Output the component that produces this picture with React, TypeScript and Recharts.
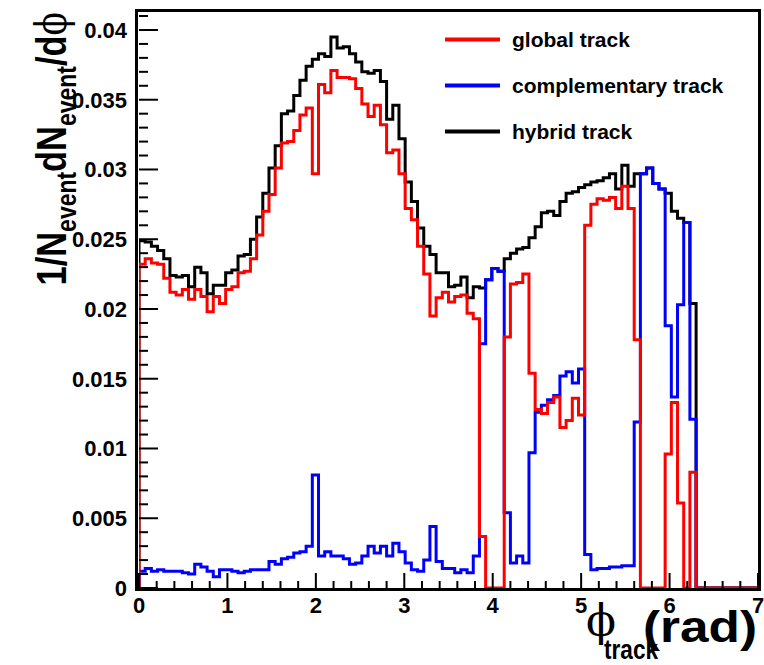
import React from 'react';
import { LineChart, Line, XAxis, YAxis } from 'recharts';

const BIN_WIDTH = 0.07;
const X_MAX = 7;
const Y_MAX = 0.04136;

const HYBRID = [
  0.0249, 0.0248, 0.0245, 0.0242, 0.0236, 0.0224, 0.0223, 0.0224, 0.0216, 0.0230,
  0.0226, 0.0211, 0.0217, 0.0217, 0.0226, 0.0228, 0.0238, 0.0239, 0.0250, 0.0266,
  0.0283, 0.0301, 0.0317, 0.0340, 0.0342, 0.0353, 0.0364, 0.0374, 0.0379, 0.0383,
  0.0381, 0.0395, 0.0387, 0.0388, 0.0383, 0.0377, 0.0370, 0.0369, 0.0371, 0.0363,
  0.0336, 0.0346, 0.0322, 0.0291, 0.0277, 0.0258, 0.0245, 0.0239, 0.0226, 0.0226,
  0.0216, 0.0217, 0.0223, 0.0208, 0.0216, 0.0215, 0.0221, 0.0229, 0.0227, 0.0236,
  0.0240, 0.0243, 0.0244, 0.0251, 0.0259, 0.0269, 0.0270, 0.0267, 0.0277, 0.0283,
  0.0284, 0.0287, 0.0289, 0.0291, 0.0292, 0.0294, 0.0297, 0.0286, 0.0303, 0.0288,
  0.0297, 0.0297, 0.0301, 0.0290, 0.0286, 0.0283, 0.0270, 0.0265, 0.0262, 0.0204,
];

const GLOBAL = [
  0.0232, 0.0236, 0.0233, 0.0232, 0.0222, 0.0212, 0.0210, 0.0214, 0.0207, 0.0214,
  0.0209, 0.0198, 0.0209, 0.0204, 0.0214, 0.0216, 0.0226, 0.0227, 0.0236, 0.0253,
  0.0270, 0.0282, 0.0301, 0.0319, 0.0320, 0.0328, 0.0339, 0.0344, 0.0297, 0.0361,
  0.0355, 0.0371, 0.0366, 0.0366, 0.0365, 0.0358, 0.0347, 0.0338, 0.0346, 0.0332,
  0.0312, 0.0314, 0.0297, 0.0272, 0.0264, 0.0245, 0.0225, 0.0195, 0.0208, 0.0212,
  0.0205, 0.0209, 0.0210, 0.0197, 0.0193, 0.0037, 0, 0, 0, 0.0180,
  0.0218, 0.0219, 0.0225, 0.0154, 0.0128, 0.0125, 0.0133, 0.0137, 0.0115, 0.0120,
  0.0136, 0.0124, 0.0260, 0.0275, 0.0279, 0.0278, 0.0280, 0.0272, 0.0288, 0.0272,
  0.0178, 0, 0, 0, 0, 0.0096, 0.0133, 0.0061, 0, 0.0083,
];

const COMPLEMENTARY = [
  0.0012, 0.0014, 0.0012, 0.0013, 0.0012, 0.0012, 0.0012, 0.0011, 0.0010, 0.0017,
  0.0015, 0.0012, 0.0008, 0.0013, 0.0013, 0.0012, 0.0011, 0.0012, 0.0013, 0.0013,
  0.0013, 0.0019, 0.0017, 0.0021, 0.0022, 0.0025, 0.0026, 0.0030, 0.0081, 0.0023,
  0.0026, 0.0023, 0.0023, 0.0021, 0.0017, 0.0018, 0.0023, 0.0030, 0.0025, 0.0030,
  0.0023, 0.0032, 0.0026, 0.0018, 0.0013, 0.0012, 0.0020, 0.0044, 0.0019, 0.0014,
  0.0014, 0.0011, 0.0013, 0.0011, 0.0023, 0.0175, 0.0221, 0.0229, 0.0227, 0.0054,
  0.0018, 0.0023, 0.0018, 0.0097, 0.0126, 0.0131, 0.0135, 0.0138, 0.0152, 0.0155,
  0.0147, 0.0157, 0.0024, 0.0013, 0.0014, 0.0014, 0.0015, 0.0015, 0.0016, 0.0016,
  0.0119, 0.0297, 0.0301, 0.0290, 0.0286, 0.0188, 0.0137, 0.0203, 0.0262, 0.0121,
];

const X_MAJOR_LABELS = ['0', '1', '2', '3', '4', '5', '6', '7'];
const Y_MAJOR_LABELS = ['0', '0.005', '0.01', '0.015', '0.02', '0.025', '0.03', '0.035', '0.04'];
const X_MINOR_STEP = 0.2;
const Y_MINOR_STEP = 0.001;

const SERIES = [
  { key: 'hybrid', name: 'hybrid track', color: '#000000' },
  { key: 'complementary', name: 'complementary track', color: '#0000ff' },
  { key: 'global', name: 'global track', color: '#ff0000' },
];
const LEGEND_ORDER = ['global', 'complementary', 'hybrid'];

const FONT = '"Liberation Sans", Arial, Helvetica, sans-serif';
const SERIF = '"DejaVu Serif", "Liberation Serif", serif';

function buildRows() {
  const rows: any[] = [{ x: 0, hybrid: 0, global: 0, complementary: 0 }];
  for (let i = 0; i < HYBRID.length; i++) {
    rows.push({
      x: +(i * BIN_WIDTH).toFixed(4),
      hybrid: HYBRID[i],
      global: GLOBAL[i],
      complementary: COMPLEMENTARY[i],
    });
  }
  rows.push({ x: +(HYBRID.length * BIN_WIDTH).toFixed(4), hybrid: 0, global: 0, complementary: 0 });
  rows.push({ x: X_MAX, hybrid: 0, global: 0, complementary: 0 });
  return rows;
}

const ROWS = buildRows();
const X_TICKS = Array.from({ length: Math.round(X_MAX / X_MINOR_STEP) + 1 }, (_, i) => +(i * X_MINOR_STEP).toFixed(3));
const Y_TICKS = Array.from({ length: Math.floor(Y_MAX / Y_MINOR_STEP + 1e-6) + 1 }, (_, i) => +(i * Y_MINOR_STEP).toFixed(4));

const XTick = (props: any) => {
  const { x, y, payload } = props;
  const v = payload.value;
  const major = Math.abs(v - Math.round(v)) < 1e-6;
  return (
    <g>
      <line x1={x} x2={x} y1={y} y2={y - (major ? 15 : 7)} stroke="#000" strokeWidth={2} />
      {major && (
        <text x={x} y={y + 25} textAnchor="middle" fontSize={22} fontWeight="bold" fontFamily={FONT} fill="#000">
          {X_MAJOR_LABELS[Math.round(v)]}
        </text>
      )}
    </g>
  );
};

const YTick = (props: any) => {
  const { x, y, payload } = props;
  const v = payload.value;
  const k = Math.round(v / Y_MINOR_STEP);
  const major = k % 5 === 0;
  return (
    <g>
      <line x1={x} x2={x + (major ? 19 : 9)} y1={y} y2={y} stroke="#000" strokeWidth={2} />
      {major && (
        <text x={x - 12} y={y + 8} textAnchor="end" fontSize={22} fontWeight="bold" fontFamily={FONT} fill="#000">
          {Y_MAJOR_LABELS[k / 5]}
        </text>
      )}
    </g>
  );
};

export default function App() {
  const legendItems = LEGEND_ORDER.map((k) => SERIES.find((s) => s.key === k)!);
  return (
    <div style={{ position: 'relative', width: 764, height: 665, background: '#fff' }}>
      <style>{'body{margin:0;}'}</style>
      <svg width={764} height={665} style={{ position: 'absolute', left: 0, top: 0 }}>
        <line x1={136.5} x2={136.5} y1={9} y2={591} stroke="#000" strokeWidth={3} />
        <line x1={135} x2={761} y1={589.5} y2={589.5} stroke="#000" strokeWidth={3} />
        <line x1={135} x2={761} y1={10.5} y2={10.5} stroke="#000" strokeWidth={3} />
        <line x1={759.5} x2={759.5} y1={9} y2={591} stroke="#000" strokeWidth={3} />
      </svg>
      <div style={{ position: 'absolute', left: 0, top: 0 }}>
        <LineChart width={764} height={665} data={ROWS} margin={{ top: 11, right: 6, bottom: 0, left: 0 }}>
          <XAxis
            dataKey="x"
            type="number"
            domain={[0, X_MAX]}
            ticks={X_TICKS}
            interval={0}
            height={77}
            axisLine={false}
            tickLine={false}
            tickSize={0}
            tickMargin={0}
            tick={<XTick />}
            allowDataOverflow
          />
          <YAxis
            type="number"
            domain={[0, Y_MAX]}
            ticks={Y_TICKS}
            interval={0}
            width={139}
            axisLine={false}
            tickLine={false}
            tickSize={0}
            tickMargin={0}
            tick={<YTick />}
            allowDataOverflow
          />
          {SERIES.map((s) => (
            <Line
              key={s.key}
              dataKey={s.key}
              name={s.name}
              type="stepAfter"
              stroke={s.color}
              strokeWidth={3}
              dot={false}
              activeDot={false}
              isAnimationActive={false}
              strokeLinejoin="miter"
            />
          ))}
        </LineChart>
      </div>
      <svg width={764} height={665} style={{ position: 'absolute', left: 0, top: 0, pointerEvents: 'none' }}>
        <g transform="translate(66,12) rotate(-90)">
          <g transform="scale(0.82,1)">
            <text x={0} y={0} textAnchor="end" fontSize={42} fontWeight="bold" fontFamily={FONT} fill="#000">
              1/N<tspan fontSize={28} dy={10}>event</tspan>
              <tspan dy={-10}>dN</tspan>
              <tspan fontSize={28} dy={10}>event</tspan>
              <tspan dy={-10}>/d</tspan>
              <tspan fontFamily={SERIF} fontWeight="normal">ϕ</tspan>
            </text>
          </g>
        </g>
        <text x={586} y={636} fontSize={44} fontFamily={SERIF} fill="#000">ϕ</text>
        <text x={604} y={659} fontSize={27} fontWeight="bold" fontFamily={FONT} fill="#000" textLength={54} lengthAdjust="spacingAndGlyphs">track</text>
        <text x={643} y={642} fontSize={44} fontWeight="bold" fontFamily={FONT} fill="#000" textLength={114} lengthAdjust="spacingAndGlyphs">(rad)</text>
        {legendItems.map((s, i) => (
          <g key={s.key}>
            <line x1={445} x2={500} y1={39.5 + i * 46} y2={39.5 + i * 46} stroke={s.color} strokeWidth={4} />
            <text x={512} y={46.5 + i * 46} fontSize={21} fontWeight="bold" fontFamily={FONT} fill="#000">{s.name}</text>
          </g>
        ))}
      </svg>
    </div>
  );
}
